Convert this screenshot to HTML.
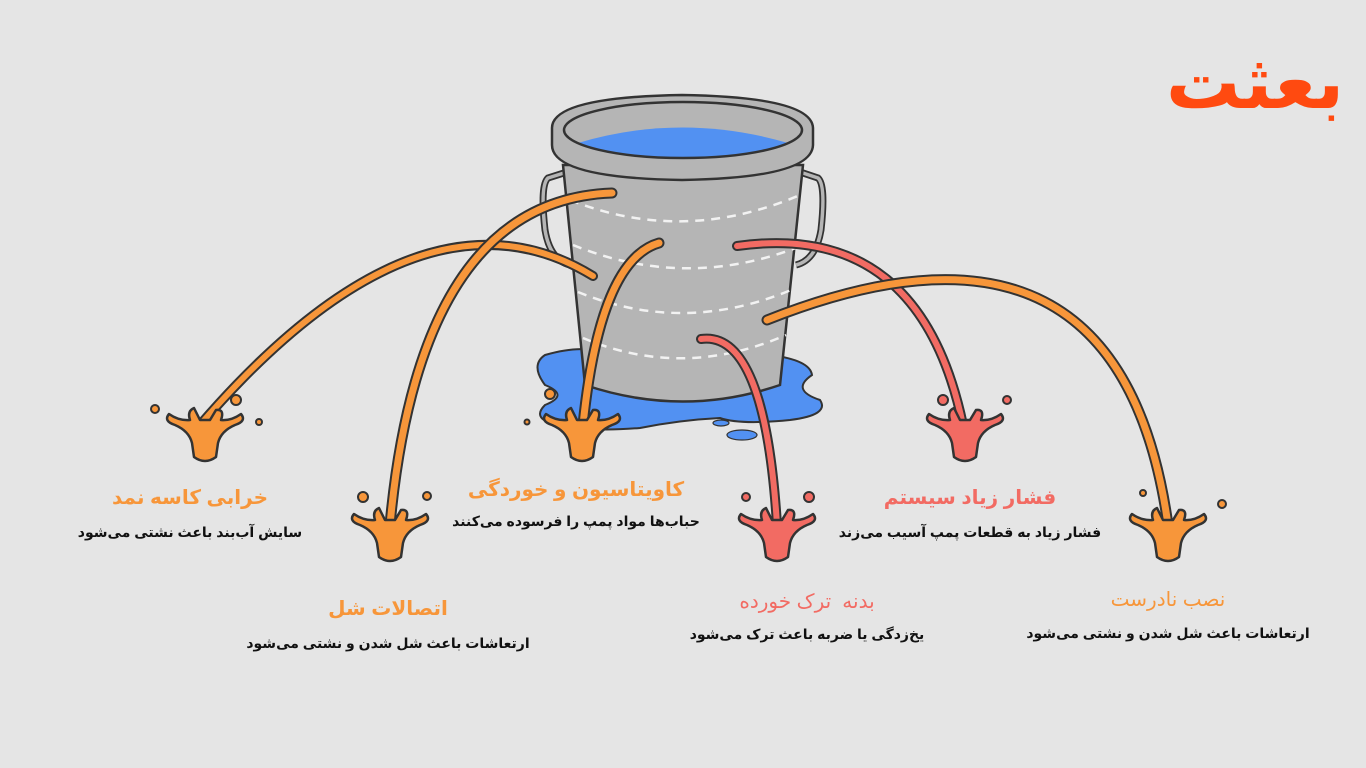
<!DOCTYPE html>
<html><head><meta charset="utf-8">
<style>
html,body{margin:0;padding:0;background:#e5e5e5;width:1366px;height:768px;overflow:hidden}
svg{position:absolute;left:0;top:0}
.t{position:absolute;transform:translateX(-50%);white-space:nowrap;direction:rtl;font-family:"Liberation Sans","DejaVu Sans",sans-serif;text-align:center}
.h{font-size:20px;font-weight:bold}
.s{font-size:14px;font-weight:bold;color:#111}
.o{color:#f7963a}.r{color:#f26b63}
</style></head><body>
<svg width="1366" height="768" viewBox="0 0 1366 768">
<defs>
<g id="sp">
<path d="M-36,-9 Q-42,-2 -30,2 Q-16,8 -13,20 L-11,34 Q0,42 11,34 L13,20 Q16,8 30,2 Q42,-2 36,-9 Q26,-2 16,-3 Q20,-14 11,-13 L5,-3 L-5,-3 L-11,-15 Q-18,-12 -15,-3 Q-26,-2 -36,-9 Z" stroke="#333" stroke-width="2.5" stroke-linejoin="round"/>
</g>
</defs>
<path d="M545,355 Q580,345 600,352 L770,355 Q810,360 812,375 Q790,390 820,400 Q830,415 790,420 Q740,425 720,418 Q680,420 640,428 Q590,432 560,425 Q530,420 545,405 Q570,395 545,385 Q530,365 545,355 Z" fill="#5291f2" stroke="#333" stroke-width="2"/>
<ellipse cx="721" cy="423" rx="8" ry="3" fill="#5291f2" stroke="#333" stroke-width="1.2"/>
<ellipse cx="742" cy="435" rx="15" ry="5" fill="#5291f2" stroke="#333" stroke-width="1.2"/>
<path d="M567,172 L548,178 Q540,185 545,230 Q550,260 570,265" fill="none" stroke="#333" stroke-width="7"/>
<path d="M567,172 L548,178 Q540,185 545,230 Q550,260 570,265" fill="none" stroke="#b5b5b5" stroke-width="3.5"/>
<path d="M800,172 L818,178 Q826,185 821,230 Q816,260 796,265" fill="none" stroke="#333" stroke-width="7"/>
<path d="M800,172 L818,178 Q826,185 821,230 Q816,260 796,265" fill="none" stroke="#b5b5b5" stroke-width="3.5"/>
<path d="M563,165 L585,385 Q683,418 780,385 L803,165 Z" fill="#b5b5b5" stroke="#333" stroke-width="2.5"/>
<g fill="none" stroke="#f2f2f2" stroke-width="2.5" stroke-dasharray="9,7">
<path d="M570,200 Q683,245 800,195"/>
<path d="M573,245 Q683,290 796,248"/>
<path d="M578,292 Q683,335 791,290"/>
<path d="M583,338 Q683,380 786,335"/>
</g>
<path d="M552,128 Q552,97 682,95 Q812,97 813,128 L813,145 Q812,178 682,180 Q552,178 552,145 Z" fill="#b5b5b5" stroke="#333" stroke-width="2.5"/>
<ellipse cx="683" cy="130" rx="119" ry="28" fill="#b5b5b5"/>
<path d="M578,143 Q682,112 788,143 Q760,158 682,158 Q604,158 578,143 Z" fill="#5291f2"/>
<ellipse cx="683" cy="130" rx="119" ry="28" fill="none" stroke="#333" stroke-width="2.5"/>
<g fill="none" stroke-linecap="round">
<path d="M593,276 Q420,170 200,425" stroke="#333" stroke-width="10"/>
<path d="M593,276 Q420,170 200,425" stroke="#f7963a" stroke-width="6"/>
<path d="M612,193 Q420,200 390,525" stroke="#333" stroke-width="11"/>
<path d="M612,193 Q420,200 390,525" stroke="#f7963a" stroke-width="7"/>
<path d="M659,243 Q600,260 583,425" stroke="#333" stroke-width="11"/>
<path d="M659,243 Q600,260 583,425" stroke="#f7963a" stroke-width="7"/>
<path d="M737,246 Q920,220 963,425" stroke="#333" stroke-width="10"/>
<path d="M737,246 Q920,220 963,425" stroke="#f26b63" stroke-width="6"/>
<path d="M701,339 Q765,330 777,525" stroke="#333" stroke-width="10"/>
<path d="M701,339 Q765,330 777,525" stroke="#f26b63" stroke-width="6"/>
<path d="M767,320 Q1120,180 1168,525" stroke="#333" stroke-width="11"/>
<path d="M767,320 Q1120,180 1168,525" stroke="#f7963a" stroke-width="7"/>
</g>
<use href="#sp" x="205" y="423" fill="#f7963a"/>
<use href="#sp" x="390" y="523" fill="#f7963a"/>
<use href="#sp" x="582" y="423" fill="#f7963a"/>
<use href="#sp" x="965" y="423" fill="#f26b63"/>
<use href="#sp" x="777" y="523" fill="#f26b63"/>
<use href="#sp" x="1168" y="523" fill="#f7963a"/>
<g stroke="#333" stroke-width="2">
<circle cx="155" cy="409" r="4" fill="#f7963a"/><circle cx="236" cy="400" r="5" fill="#f7963a"/><circle cx="259" cy="422" r="3" fill="#f7963a"/>
<circle cx="363" cy="497" r="5" fill="#f7963a"/><circle cx="427" cy="496" r="4" fill="#f7963a"/>
<circle cx="550" cy="394" r="5" fill="#f7963a"/><circle cx="527" cy="422" r="2.5" fill="#f7963a"/>
<circle cx="943" cy="400" r="5" fill="#f26b63"/><circle cx="1007" cy="400" r="4" fill="#f26b63"/>
<circle cx="746" cy="497" r="4" fill="#f26b63"/><circle cx="809" cy="497" r="5" fill="#f26b63"/>
<circle cx="1143" cy="493" r="3" fill="#f7963a"/><circle cx="1222" cy="504" r="4" fill="#f7963a"/>
</g>
</svg>
<div class="t" style="left:1255px;top:33px;font-size:74px;font-weight:bold;color:#ff4a10;line-height:100px">بعثت</div>
<div class="t h o" style="left:190px;top:485px">خرابی کاسه نمد</div>
<div class="t s" style="left:190px;top:524px">سایش آب‌بند باعث نشتی می‌شود</div>
<div class="t h o" style="left:388px;top:596px">اتصالات شل</div>
<div class="t s" style="left:388px;top:635px">ارتعاشات باعث شل شدن و نشتی می‌شود</div>
<div class="t h o" style="left:576px;top:477px">کاویتاسیون و خوردگی</div>
<div class="t s" style="left:576px;top:513px">حباب‌ها مواد پمپ را فرسوده می‌کنند</div>
<div class="t h r" style="left:807px;top:589px;font-weight:normal">بدنه&nbsp; ترک خورده</div>
<div class="t s" style="left:807px;top:626px">یخ‌زدگی یا ضربه باعث ترک می‌شود</div>
<div class="t h r" style="left:970px;top:485px">فشار زیاد سیستم</div>
<div class="t s" style="left:970px;top:524px">فشار زیاد به قطعات پمپ آسیب می‌زند</div>
<div class="t h o" style="left:1168px;top:587px;font-weight:normal">نصب نادرست</div>
<div class="t s" style="left:1168px;top:625px">ارتعاشات باعث شل شدن و نشتی می‌شود</div>
</body></html>
